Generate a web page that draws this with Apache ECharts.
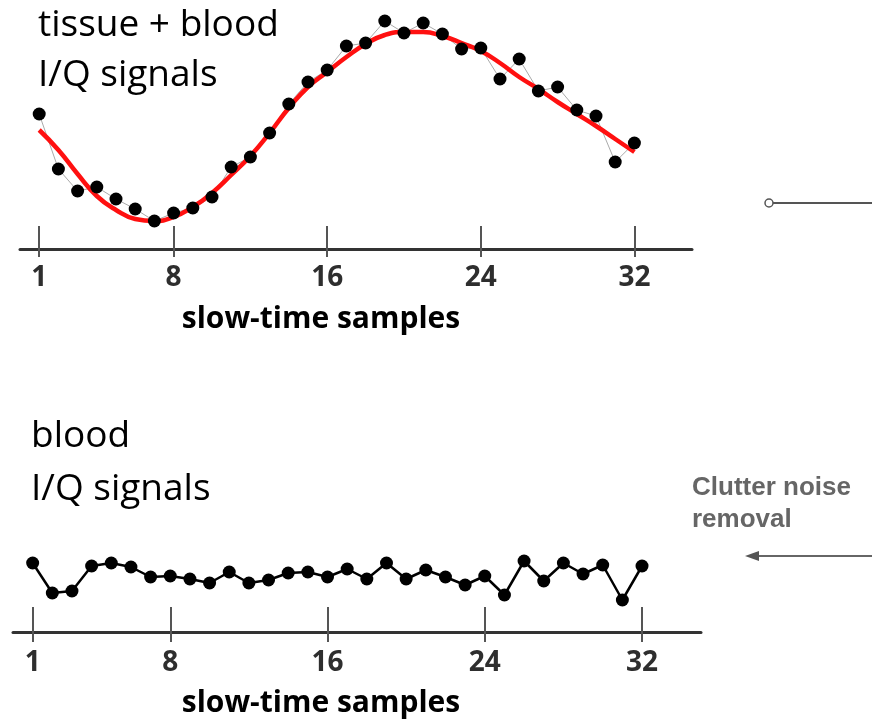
<!DOCTYPE html>
<html>
<head>
<meta charset="utf-8">
<script src="https://cdn.jsdelivr.net/npm/echarts@6/dist/echarts.min.js"></script>
<style>
html,body{margin:0;padding:0;background:#fff;}
#chart{width:872px;height:722px;}
</style>
</head>
<body>
<div id="chart"></div>
<script>
// slow-time sample indices
const samples = [1,2,3,4,5,6,7,8,9,10,11,12,13,14,15,16,17,18,19,20,21,22,23,24,25,26,27,28,29,30,31,32];
const tickValues = [1, 8, 16, 24, 32];
// tissue + blood I/Q signal (arbitrary units)
const tissueBlood = [135,80,58,62,50,40,28,36,41,52,82,92,116,145,167,179,203,206,228,216,226,215,200,201,170,190,158,162,139,133,87,106];
// smooth tissue fit (red curve)
const tissueFit = [119,99,75,53,39,30,28,32,42,56,74,93,116,141,162,177,192,205,214,217,217,213,206,198,186,172,160,147,135,123,110,97];
// blood I/Q signal after clutter removal
const bloodOnly = [69,39,41,66,69,65,55,56,53,49,60,49,52,59,60,55,63,53,69,53,62,55,47,56,37,71,51,69,58,67,32,66];

const topTitle = ['tissue + blood', 'I/Q signals'];
const bottomTitle = ['blood', 'I/Q signals'];
const xName = 'slow-time samples';
const sideText = ['Clutter noise', 'removal'];

const pair = arr => samples.map((s, i) => [s, arr[i]]);

const chart = echarts.init(document.getElementById('chart'), null, {renderer: 'canvas'});

const labelStyle = {fontFamily: 'Open Sans', fontWeight: 'bold', fontSize: 28, color: '#2e2e2e'};

function axisPair(gridIndex, upLen, downLen, margin) {
  return [
    {
      type: 'value', gridIndex, min: 0, max: 35, position: 'bottom',
      axisLine: {show: true, onZero: false, lineStyle: {color: '#333', width: 3}},
      axisTick: {show: true, inside: true, length: upLen, customValues: tickValues, lineStyle: {color: '#555', width: 2}},
      axisLabel: {show: false},
      splitLine: {show: false}
    },
    {
      type: 'value', gridIndex, min: 0, max: 35, position: 'bottom',
      axisLine: {show: false, onZero: false},
      axisTick: {show: true, inside: false, length: downLen, customValues: tickValues, lineStyle: {color: '#555', width: 2}},
      axisLabel: Object.assign({show: true, customValues: tickValues, margin: margin}, labelStyle),
      splitLine: {show: false}
    }
  ];
}

const textEl = (str, x, y, font, color) => ({
  type: 'text', x, y,
  style: {text: str, fill: color, font, textAlign: 'left', textVerticalAlign: 'middle'}
});
const centerText = (str, x, y, font, color) => ({
  type: 'text', x, y,
  style: {text: str, fill: color, font, textAlign: 'center', textVerticalAlign: 'middle'}
});

const option = {
  animation: false,
  backgroundColor: '#fff',
  grid: [
    {left: 20, top: 0, width: 672, height: 249},
    {left: 13, top: 532, width: 688, height: 100}
  ],
  xAxis: [].concat(axisPair(0, 23, 8, 15), axisPair(1, 25, 10, 17)),
  yAxis: [
    {type: 'value', gridIndex: 0, min: 0, max: 249, show: false},
    {type: 'value', gridIndex: 1, min: 0, max: 100, show: false}
  ],
  series: [
    {
      type: 'line', xAxisIndex: 0, yAxisIndex: 0, data: pair(tissueBlood),
      showSymbol: false, symbol: 'none', lineStyle: {color: '#aaa', width: 1}, z: 2
    },
    {
      type: 'line', xAxisIndex: 0, yAxisIndex: 0, data: pair(tissueFit),
      smooth: true, showSymbol: false, symbol: 'none',
      lineStyle: {color: '#ff1010', width: 4.5}, z: 3
    },
    {
      type: 'scatter', xAxisIndex: 0, yAxisIndex: 0, data: pair(tissueBlood),
      symbol: 'circle', symbolSize: 13, itemStyle: {color: '#000', opacity: 1}, z: 4
    },
    {
      type: 'line', xAxisIndex: 2, yAxisIndex: 1, data: pair(bloodOnly),
      symbol: 'circle', symbolSize: 13, showSymbol: true,
      lineStyle: {color: '#000', width: 2.5}, itemStyle: {color: '#000', borderWidth: 0, opacity: 1}, z: 4
    }
  ],
  graphic: [
    textEl(topTitle[0], 38, 25, '37px "Open Sans"', '#000'),
    textEl(topTitle[1], 38, 75, '37px "Open Sans"', '#000'),
    textEl(bottomTitle[0], 31, 436, '37px "Open Sans"', '#000'),
    textEl(bottomTitle[1], 31, 489, '37px "Open Sans"', '#000'),
    centerText(xName, 321, 319, 'bold 30px "Open Sans"', '#000'),
    centerText(xName, 321, 703, 'bold 30px "Open Sans"', '#000'),
    textEl(sideText[0], 692, 488, 'bold 26px "Liberation Sans"', '#666'),
    textEl(sideText[1], 692, 520, 'bold 26px "Liberation Sans"', '#666'),
    {type: 'line', shape: {x1: 773, y1: 203, x2: 872, y2: 203}, style: {stroke: '#555', lineWidth: 2}},
    {type: 'circle', shape: {cx: 769, cy: 203, r: 4}, style: {stroke: '#555', lineWidth: 1.5, fill: '#fff'}},
    {type: 'line', shape: {x1: 756, y1: 556, x2: 872, y2: 556}, style: {stroke: '#666', lineWidth: 2}},
    {type: 'polygon', shape: {points: [[745, 556], [759, 551], [759, 561]]}, style: {fill: '#555'}}
  ]
};
chart.setOption(option);
</script>
</body>
</html>
